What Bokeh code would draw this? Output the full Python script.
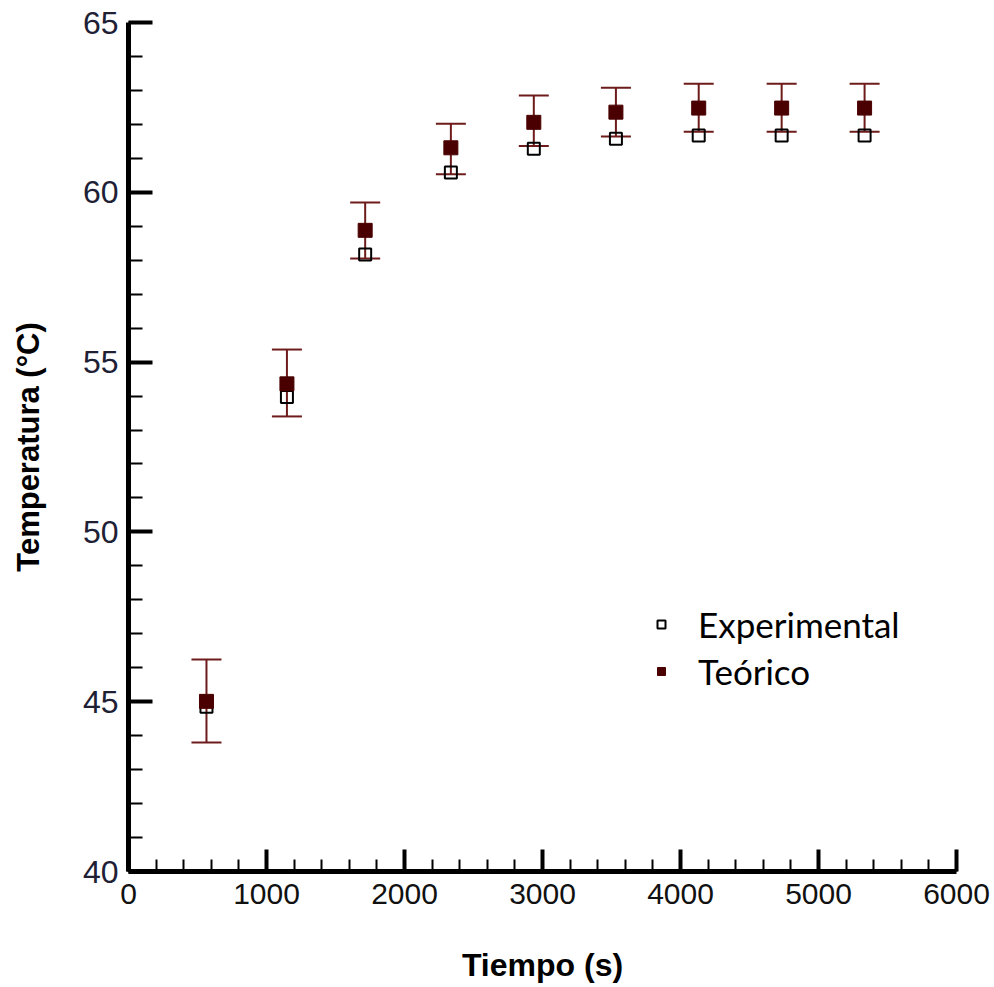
from bokeh.plotting import figure
from bokeh.models import (ColumnDataSource, Whisker, TeeHead, SingleIntervalTicker,
                          Range1d, Legend, LegendItem)
from bokeh.embed import file_html
from bokeh.resources import INLINE

# ---- data ----
tiempo = [565, 1148, 1715, 2336, 2937, 3532, 4132, 4733, 5334]
experimental = [44.85, 53.97, 58.17, 60.58, 61.28, 61.58, 61.67, 61.67, 61.67]
teorico = [45.01, 54.36, 58.88, 61.31, 62.06, 62.36, 62.48, 62.48, 62.48]
err_upper = [46.24, 55.37, 59.70, 62.02, 62.85, 63.08, 63.20, 63.20, 63.20]
err_lower = [43.80, 53.40, 58.05, 60.53, 61.36, 61.64, 61.78, 61.78, 61.78]

x_ticks_interval = 1000
y_ticks_interval = 5

src = ColumnDataSource(dict(x=tiempo, exp=experimental, teo=teorico,
                            upper=err_upper, lower=err_lower))

p = figure(width=990, height=985, output_backend="svg", toolbar_location=None,
           x_range=Range1d(0, 6000), y_range=Range1d(40, 65),
           min_border_left=128, min_border_right=34, min_border_top=22,
           min_border_bottom=114)
p.outline_line_color = None
p.grid.visible = False
p.background_fill_color = "white"
p.border_fill_color = "white"

err_col = "#6e1b1b"
fill_col = "#4a0000"

wh = Whisker(source=src, base="x", upper="upper", lower="lower",
             line_color=err_col, line_width=2,
             upper_head=TeeHead(size=30, line_color=err_col, line_width=2),
             lower_head=TeeHead(size=30, line_color=err_col, line_width=2))
p.add_layout(wh)

r_exp = p.scatter("x", "exp", source=src, marker="square", size=12,
                  fill_color=None, line_color="black", line_width=2)
r_teo = p.scatter("x", "teo", source=src, marker="square", size=14,
                  fill_color=fill_col, line_color=fill_col, line_width=1)

legend = Legend(items=[LegendItem(label="Experimental", renderers=[r_exp]),
                       LegendItem(label="Teórico", renderers=[r_teo])],
                location=(523, 179), padding=0, margin=0, spacing=5,
                glyph_width=20, glyph_height=30, label_height=30,
                label_standoff=27, border_line_color=None,
                background_fill_alpha=0,
                label_text_font="Lato", label_text_font_size="35px",
                label_text_color="black")
p.add_layout(legend)

# axes
for ax in (p.xaxis[0], p.yaxis[0]):
    ax.axis_line_width = 5
    ax.axis_line_color = "black"
    ax.major_tick_line_color = "black"
    ax.minor_tick_line_color = "black"
    ax.major_tick_line_width = 4
    ax.minor_tick_line_width = 2
    ax.major_tick_out = 0
    ax.minor_tick_out = 0
    ax.major_label_text_font = "Liberation Sans"
    ax.axis_label_text_font = "Liberation Sans"
    ax.axis_label_text_font_style = "bold"
    ax.axis_label_text_color = "black"

p.xaxis.ticker = SingleIntervalTicker(interval=x_ticks_interval, num_minor_ticks=5)
p.yaxis.ticker = SingleIntervalTicker(interval=y_ticks_interval, num_minor_ticks=5)

p.xaxis.major_tick_in = 22
p.xaxis.minor_tick_in = 12
p.yaxis.major_tick_in = 24
p.yaxis.minor_tick_in = 14

p.xaxis.major_label_text_font_size = "30px"
p.xaxis.major_label_text_color = "#111111"
p.xaxis.major_label_standoff = 12
p.xaxis.axis_label = "Tiempo (s)"
p.xaxis.axis_label_text_font_size = "32px"
p.xaxis.axis_label_standoff = 40

p.yaxis.major_label_text_font_size = "32px"
p.yaxis.major_label_text_color = "#202035"
p.yaxis.major_label_standoff = 10
p.yaxis.axis_label = "Temperatura (°C)"
p.yaxis.axis_label_text_font_size = "31px"
p.yaxis.axis_label_standoff = 34

open("out.html", "w").write(file_html(p, INLINE))
